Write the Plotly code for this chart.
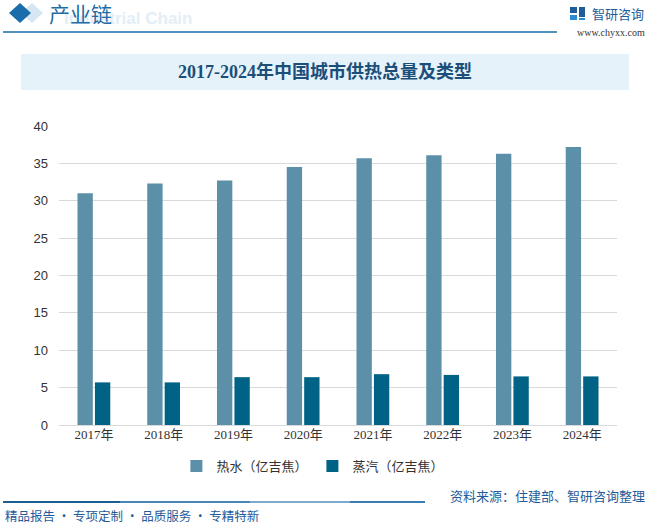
import plotly.graph_objects as go

years = ["2017年", "2018年", "2019年", "2020年", "2021年", "2022年", "2023年", "2024年"]
hot_water = [31.0, 32.3, 32.7, 34.5, 35.7, 36.1, 36.3, 37.2]
steam = [5.7, 5.7, 6.4, 6.4, 6.8, 6.7, 6.5, 6.5]
series_names = ["热水（亿吉焦）", "蒸汽（亿吉焦）"]
y_ticks = [0, 5, 10, 15, 20, 25, 30, 35, 40]

W, H = 649, 525
L, R, T, B = 59, 617, 126, 425

def px(x):
    return (x - L) / (R - L)

def py(y):
    return (B - y) / (B - T)

CJK = "Noto Sans CJK SC, sans-serif"
SERIF = "Liberation Serif, Noto Sans CJK SC, serif"

fig = go.Figure()
fig.add_trace(go.Bar(x=years, y=hot_water, name=series_names[0],
                     marker=dict(color="#5B90A8", line=dict(width=0))))
fig.add_trace(go.Bar(x=years, y=steam, name=series_names[1],
                     marker=dict(color="#006386", line=dict(width=0))))

shapes = []
annotations = []

# header
shapes.append(dict(type="path", xref="paper", yref="paper",
                   path=f"M {px(32)} {py(3)} L {px(43)} {py(13)} L {px(32)} {py(23)} L {px(21)} {py(13)} Z",
                   fillcolor="#D6E6F2", line=dict(width=0), layer="below"))
shapes.append(dict(type="path", xref="paper", yref="paper",
                   path=f"M {px(20)} {py(3)} L {px(31)} {py(13)} L {px(20)} {py(23)} L {px(9)} {py(13)} Z",
                   fillcolor="#1A6DAA", line=dict(width=0)))
annotations.append(dict(text="<b>Industrial Chain</b>", x=px(62), y=py(18), xref="paper", yref="paper",
                        xanchor="left", yanchor="middle", showarrow=False,
                        font=dict(family="Liberation Sans, Arial", size=17, color="#E3EEF7")))
annotations.append(dict(text="产业链", x=px(47), y=py(13), xref="paper", yref="paper",
                        xanchor="left", yanchor="middle", showarrow=False,
                        font=dict(family=CJK, size=21, color="#1F6CA5")))
shapes.append(dict(type="line", xref="paper", yref="paper", x0=px(3), x1=px(557), y0=py(32), y1=py(32),
                   line=dict(color="#1A6DAA", width=1.5)))
# logo
shapes.append(dict(type="rect", xref="paper", yref="paper", x0=px(570), x1=px(577), y0=py(7), y1=py(13),
                   fillcolor="#1F5C99", line=dict(width=0)))
shapes.append(dict(type="rect", xref="paper", yref="paper", x0=px(579), x1=px(585), y0=py(7), y1=py(17),
                   fillcolor="#1F5C99", line=dict(width=0)))
shapes.append(dict(type="rect", xref="paper", yref="paper", x0=px(570), x1=px(577), y0=py(15), y1=py(20),
                   fillcolor="#2A8BD0", line=dict(width=0)))
shapes.append(dict(type="rect", xref="paper", yref="paper", x0=px(579), x1=px(585), y0=py(18), y1=py(20),
                   fillcolor="#2A8BD0", line=dict(width=0)))
annotations.append(dict(text="智研咨询", x=px(590), y=py(13), xref="paper", yref="paper",
                        xanchor="left", yanchor="middle", showarrow=False,
                        font=dict(family=CJK, size=13, color="#1F5C99")))
annotations.append(dict(text="www.chyxx.com", x=px(647), y=py(32), xref="paper", yref="paper",
                        xanchor="right", yanchor="middle", showarrow=False,
                        font=dict(family="Liberation Serif, serif", size=10, color="#333333")))

# title band
shapes.append(dict(type="rect", xref="paper", yref="paper", x0=px(21), x1=px(629), y0=py(54), y1=py(90),
                   fillcolor="#E5F2FA", line=dict(width=0), layer="below"))
annotations.append(dict(text="<b>2017-2024年中国城市供热总量及类型</b>", x=px(325), y=py(72),
                        xref="paper", yref="paper", xanchor="center", yanchor="middle", showarrow=False,
                        font=dict(family=SERIF, size=18, color="#1B4F7A")))

# footer
segs = [("#1B5E93", 3, 120), ("#4A86B5", 120, 250), ("#7FAACB", 250, 350), ("#3C7BAE", 350, 425)]
for c, a, b in segs:
    shapes.append(dict(type="line", xref="paper", yref="paper", x0=px(a), x1=px(b), y0=py(502), y1=py(502),
                       line=dict(color=c, width=2)))
annotations.append(dict(text="资料来源：住建部、智研咨询整理", x=px(647), y=py(495), xref="paper", yref="paper",
                        xanchor="right", yanchor="middle", showarrow=False,
                        font=dict(family=CJK, size=13, color="#1F5C99")))
annotations.append(dict(text="精品报告 · 专项定制 · 品质服务 · 专精特新", x=px(3), y=py(515), xref="paper", yref="paper",
                        xanchor="left", yanchor="middle", showarrow=False,
                        font=dict(family=CJK, size=12.5, color="#1F5C99")))

fig.update_layout(
    width=W, height=H,
    margin=dict(l=L, r=W - R, t=T, b=H - B, pad=0),
    paper_bgcolor="white", plot_bgcolor="white",
    barmode="group", bargap=0.5, bargroupgap=0.12,
    showlegend=True,
    legend=dict(orientation="h", x=0.455, xanchor="center", y=py(466), yanchor="middle",
                font=dict(family=CJK, size=13, color="#333333"), itemwidth=30,
                bgcolor="rgba(0,0,0,0)"),
    shapes=shapes, annotations=annotations,
    xaxis=dict(showgrid=False, showline=False, ticks="", zeroline=False,
               tickfont=dict(family=SERIF, size=13, color="#333333")),
    yaxis=dict(range=[0, 40], tickvals=y_ticks, showgrid=True, gridcolor="#D9D9D9", gridwidth=1,
               zeroline=True, zerolinecolor="#D9D9D9", zerolinewidth=1, showline=False, ticks="",
               ticklabelstandoff=10,
               tickfont=dict(family="Liberation Sans, Arial", size=13, color="#333333")),
)

fig.write_html("out.html")
